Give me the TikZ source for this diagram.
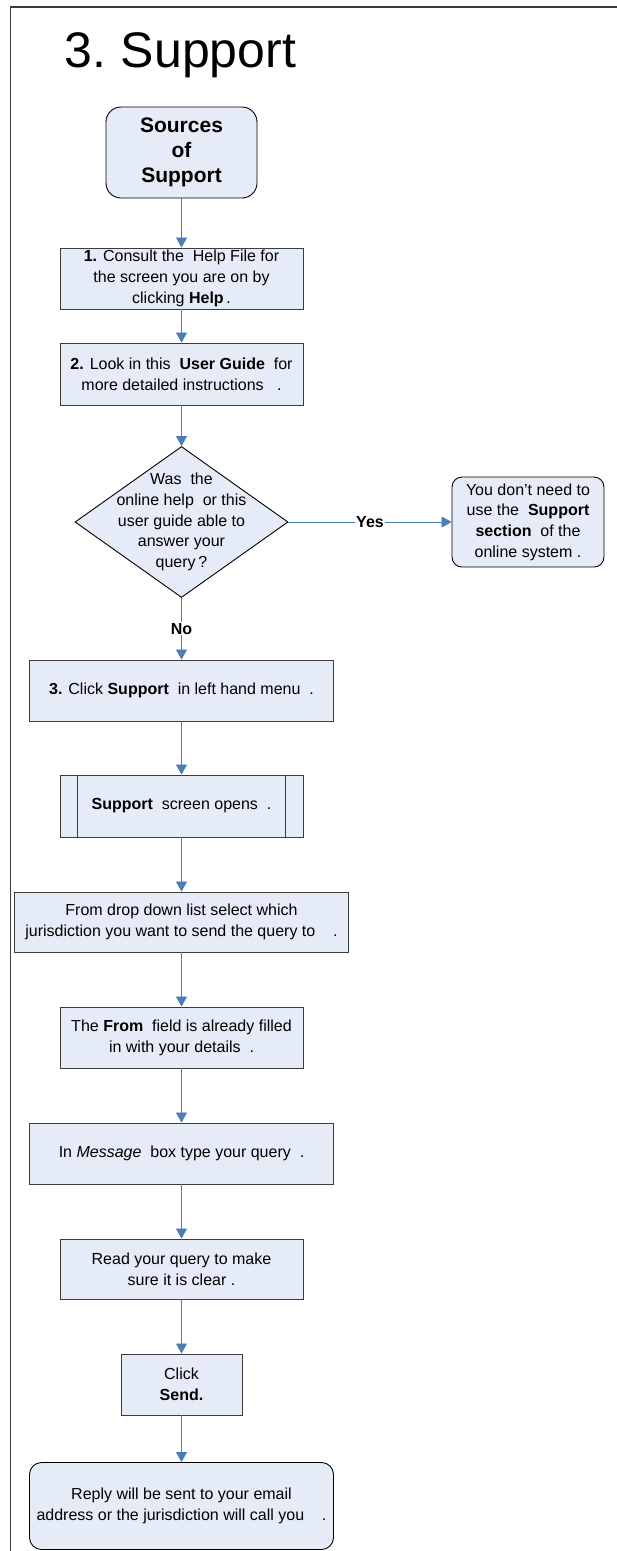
\documentclass[tikz,border=0pt]{standalone}
\usepackage{fontspec}
\setmainfont{Liberation Sans}
\usetikzlibrary{shapes.geometric,arrows.meta}

\definecolor{boxfill}{HTML}{E6ECF7}
\definecolor{flowblue}{HTML}{4A7EBB}
\definecolor{edgegray}{HTML}{3C3C3C}

\tikzset{
  box/.style={draw=edgegray, fill=boxfill, line width=0.9pt, inner sep=0pt, align=center,
    font=\fontsize{16}{20.7}\selectfont},
  roundbox/.style={box, draw=black, rounded corners=12pt},
  decision/.style={box, diamond, draw=black},
  txt/.style={inner sep=0pt, align=center, font=\fontsize{16}{20.7}\selectfont},
  flow/.style={flowblue, line width=0.8pt, -{Triangle[length=10pt,width=11pt]}},
  frame/.style={edgegray, line width=1.4pt},
  lbl/.style={fill=white, text=black, inner sep=1pt, font=\fontsize{16}{20}\selectfont\bfseries},
}

\begin{document}
\begin{tikzpicture}[x=1pt,y=-1pt]
\useasboundingbox (0,0) rectangle (617,1551);
%\draw[step=50,gray,very thin] (0,0) grid (617,1551); %background grid

\draw[frame] (10.5,1551) -- (10.5,7) -- (617,7);

\node[anchor=base west, inner sep=0pt, font=\fontsize{50}{60}\selectfont] (title) at (64,67) {3.\hspace{0.3em}Support};

\node[roundbox, rounded corners=15pt, minimum width=151, minimum height=91,
  font=\fontsize{21}{25}\selectfont\bfseries] (src) at (181.5,152.5) {Sources\\of\\Support};

\node[box, minimum width=243, minimum height=61] (consult) at (181.5,278.5)
  {\textbf{1.} Consult the\ \ Help File for\\the screen you are on by\\clicking \textbf{Help}\,.};
\node[box, minimum width=243, minimum height=62] (guide) at (181.5,374)
  {\textbf{2.} Look in this\ \ \textbf{User Guide}\ \ for\\more detailed instructions\ \ \ .};

\node[decision, minimum width=213, minimum height=151] (query) at (181.5,522) {};
\node[txt] (querytxt) at (query) {Was\ \ the\\online help\ \ or this\\user guide able to\\answer your\\query\,?};

\node[roundbox, rounded corners=10pt, minimum width=152, minimum height=90] (nosupp) at (528,522)
  {You don’t need to\\use the\ \ \textbf{Support}\\\textbf{section}\ \ of the\\online system\ .};

\node[box, minimum width=304, minimum height=61] (clicksup) at (181.5,690.5)
  {\textbf{3.} Click\ \textbf{Support}\ \ in left hand menu\ \ .};

\node[box, minimum width=243, minimum height=62] (suppscr) at (181.5,806)
  {\textbf{Support}\ \ screen opens\ \ .};
\draw[edgegray, line width=0.9pt] ([xshift=18pt]suppscr.north west) -- ([xshift=18pt]suppscr.south west);
\draw[edgegray, line width=0.9pt] ([xshift=-18pt]suppscr.north east) -- ([xshift=-18pt]suppscr.south east);

\node[box, minimum width=334, minimum height=60] (juris) at (181.5,922)
  {From drop down list select which\\jurisdiction you want to send the query to\ \ \ \ .};
\node[box, minimum width=243, minimum height=61] (fromfld) at (181.5,1037.5)
  {The\ \textbf{From}\ \ field is already filled\\in with your details\ \ .};
\node[box, minimum width=304, minimum height=61] (msg) at (181.5,1153.5)
  {In\ \textit{Message}\ \ box type your query\ \ .};
\node[box, minimum width=243, minimum height=60] (reread) at (181.5,1269)
  {Read your query to make\\sure it is clear\ .};
\node[box, minimum width=121, minimum height=61] (send) at (181.5,1384.5)
  {Click\\\textbf{Send.}};
\node[roundbox, minimum width=304, minimum height=87] (reply) at (181.5,1506)
  {Reply will be sent to your email\\address or the jurisdiction will call you\ \ \ \ .};

\draw[flow] (src) -- (consult);
\draw[flow] (consult) -- (guide);
\draw[flow] (guide) -- (query);
\draw[flow] (query) -- node[lbl] {Yes} (nosupp);
\draw[flow] (query) -- node[lbl] {No} (clicksup);
\draw[flow] (clicksup) -- (suppscr);
\draw[flow] (suppscr) -- (juris);
\draw[flow] (juris) -- (fromfld);
\draw[flow] (fromfld) -- (msg);
\draw[flow] (msg) -- (reread);
\draw[flow] (reread) -- (send);
\draw[flow] (send) -- (reply);
\end{tikzpicture}
\end{document}
